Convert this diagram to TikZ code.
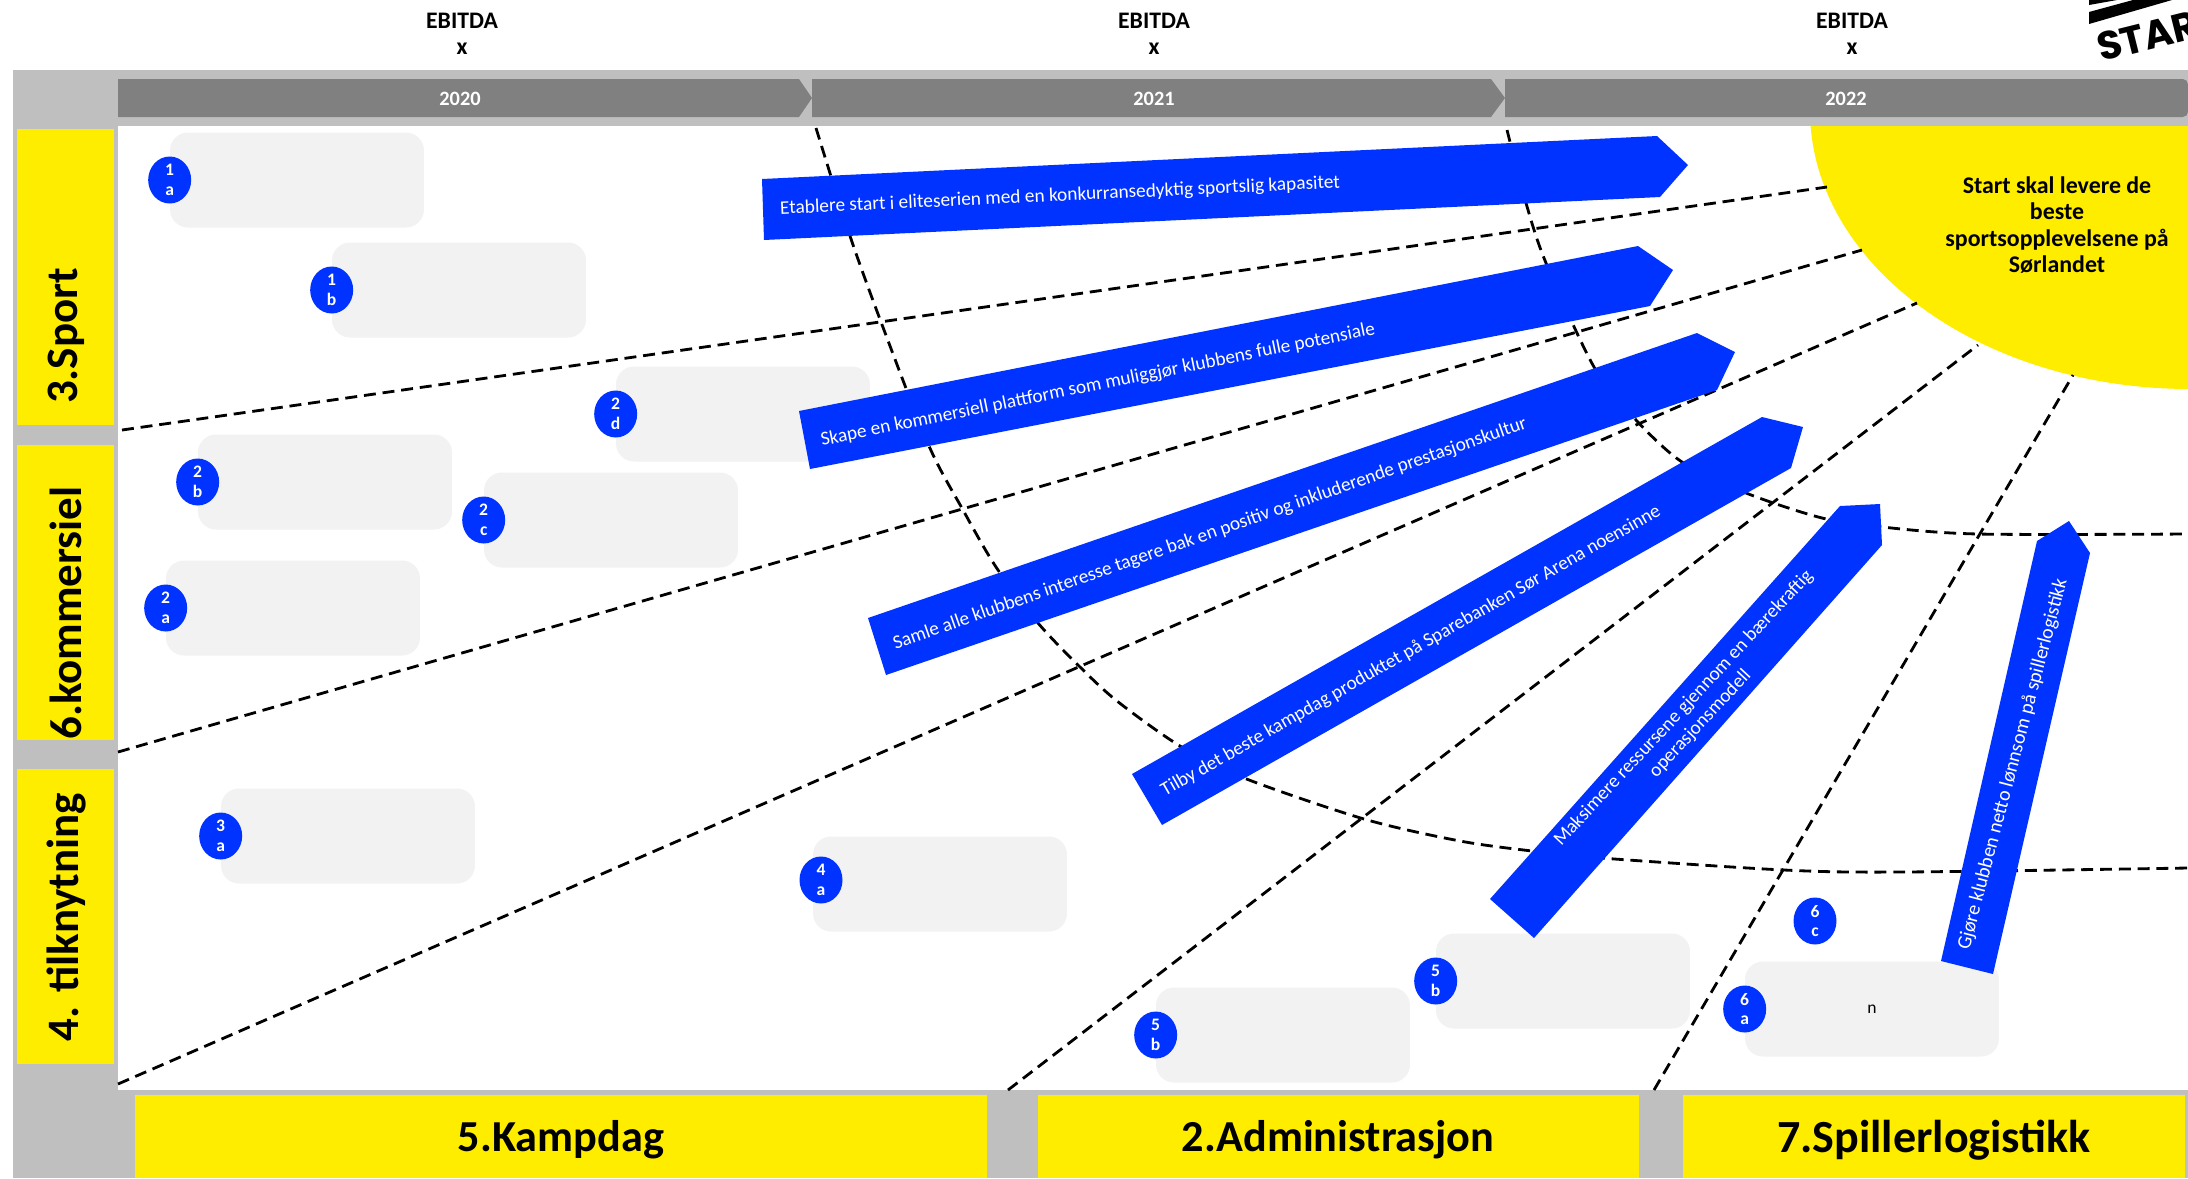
\documentclass[tikz,border=0pt]{standalone}
\usepackage{fontspec}
\setmainfont{Carlito}
\newfontfamily\logofont{Poppins}
\usetikzlibrary{calc}
\usetikzlibrary{positioning}
\usetikzlibrary{shapes.geometric}
\definecolor{startyellow}{HTML}{FFED00}
\definecolor{startblue}{HTML}{0033FF}
\definecolor{bandgrey}{HTML}{BFBFBF}
\definecolor{yeargrey}{HTML}{808080}
\definecolor{boxgrey}{HTML}{F2F2F2}

\begin{document}
\begin{tikzpicture}[x=0.02cm,y=-0.02cm,
  goalbox/.style={rectangle,fill=boxgrey,rounded corners=0.36cm,minimum width=5.08cm,minimum height=1.9cm,inner sep=0pt},
  badge/.style={ellipse,fill=startblue,text=white,minimum width=0.86cm,minimum height=0.94cm,inner sep=0pt,align=center,font=\fontsize{10}{11.2}\selectfont\bfseries},
  sidelabel/.style={rotate=90,font=\fontsize{25.6}{28}\selectfont\bfseries},
  baselabel/.style={font=\fontsize{25.2}{28}\selectfont\bfseries},
  toplabel/.style={align=center,font=\fontsize{13.5}{14.9}\selectfont\bfseries},
  yearlabel/.style={text=white,font=\fontsize{11.6}{13}\selectfont\bfseries},
  goalarrow/.style={fill=startblue},
  goaltext/.style={text=white,align=center,font=\fontsize{11}{13}\selectfont},
  raydash/.style={line width=1.6pt,dash pattern=on 6.8pt off 3.9pt}]

\useasboundingbox (0,0) rectangle (2188,1178);

% frame
\fill[bandgrey] (13,70) rectangle (2188,1178);
\fill[white] (118,126) rectangle (2188,1090);

% sun
\begin{scope}
\clip (118,126) rectangle (2188,1090);
\fill[startyellow] (2190,110) ellipse (380 and 279);
\end{scope}

% logo
\fill (2089,0) -- (2117,0) -- (2089,5) -- cycle;
\fill (2089,12) -- (2133,0) -- (2172,0) -- (2089,24) -- cycle;
\node [rotate=14,anchor=base west,inner sep=0pt,font=\fontsize{22.5}{24}\selectfont\logofont\bfseries] (logo) at (2101,62) {STAR};

% yellow headers
\fill[startyellow] (17,129) rectangle (114,425);
\fill[startyellow] (17,445) rectangle (114,740);
\fill[startyellow] (17,769) rectangle (114,1064);
\fill[startyellow] (135,1095) rectangle (987,1178);
\fill[startyellow] (1038,1095) rectangle (1639,1178);
\fill[startyellow] (1683,1095) rectangle (2185,1178);

% years
\fill[yeargrey] (118,79) -- (799,79) -- (812,98) -- (799,117) -- (118,117) -- cycle;
\fill[yeargrey] (812,79) -- (1491,79) -- (1505,98) -- (1491,117) -- (812,117) -- cycle;
\fill[yeargrey] (1505,79) [rounded corners=3pt] -- (2188,79) -- (2188,117) [sharp corners] -- (1505,117) -- cycle;

% boxes
\node [goalbox] (box1a) at (297,180) {};
\node [goalbox] (box1b) at (459,290) {};
\node [goalbox] (box2d) at (743,414) {};
\node [goalbox] (box2b) at (325,482) {};
\node [goalbox] (box2c) at (611,520) {};
\node [goalbox] (box2a) at (293,608) {};
\node [goalbox] (box3a) at (348,836) {};
\node [goalbox] (box4a) at (940,884) {};
\node [goalbox] (box5b) at (1283,1035) {};
\node [goalbox] (box5c) at (1563,981) {};
\node [goalbox] (box6a) at (1872,1009) {\fontsize{10}{12}\selectfont n};

% rays
\coordinate (ray1a) at (122,430);
\coordinate (ray1b) at (1827,187);
\coordinate (ray2a) at (118,752);
\coordinate (ray2b) at (1862,250);
\coordinate (ray3a) at (118,1084);
\coordinate (ray3b) at (1917,303);
\coordinate (ray4a) at (1008,1090);
\coordinate (ray4b) at (1978,345);
\coordinate (ray5a) at (1654,1090);
\coordinate (ray5b) at (2073,375);
\draw [raydash] (ray1a) -- (ray1b);
\draw [raydash] (ray2a) -- (ray2b);
\draw [raydash] (ray3a) -- (ray3b);
\draw [raydash] (ray4a) -- (ray4b);
\draw [raydash] (ray5a) -- (ray5b);

% arcs
\draw [raydash] plot[smooth] coordinates {(816,128) (850,236) (884,330) (929,446) (963,510) (996,567) (1038,623) (1079,666) (1117,701) (1180,746) (1244,778) (1364,819) (1460,841) (1532,851) (1601,858) (1784,870) (1902,872) (2188,868)};
\draw [raydash] plot[smooth] coordinates {(1507,130) (1526,203) (1546,263) (1594,367) (1636,420) (1682,462) (1746,493) (1822,518) (1882,527) (1978,534) (2188,534)};

% arrows
\fill[goalarrow] (762,179) -- (1657,136) -- (1688,165) -- (1660,197) -- (764,240) -- cycle;
\fill[goalarrow] (799,411) -- (1638,246) -- (1673,270) -- (1650,306) -- (810,469) -- cycle;
\fill[goalarrow] (868,618) -- (1697,333) -- (1735,352) -- (1717,390) -- (886,675) -- cycle;
\fill[goalarrow] (1132,774) -- (1762,417) -- (1803,427) -- (1791,468) -- (1162,825) -- cycle;
\fill[goalarrow] (1490,899) -- (1840,506) -- (1880,504) -- (1882,545) -- (1534,938) -- cycle;
\fill[goalarrow] (1941,961) -- (2037,541) -- (2069,521) -- (2090,553) -- (1993,974) -- cycle;

\node [goaltext,rotate=2.7] (goal1) at (1060,196) {Etablere start i eliteserien med en konkurransedyktig sportslig kapasitet};
\node [goaltext,rotate=11.4] (goal2) at (1098,385) {Skape en kommersiell plattform som muliggjør klubbens fulle potensiale};
\node [goaltext,rotate=19.3] (goal3) at (1210,534) {Samle alle klubbens interesse tagere bak en positiv og inkluderende prestasjonskultur};
\node [goaltext,rotate=29.6] (goal4) at (1411,651) {Tilby det beste kampdag produktet på Sparebanken Sør Arena noensinne};
\node [goaltext,rotate=47] (goal5) at (1692,716) {Maksimere ressursene gjennom en bærekraftig\\operasjonsmodell};
\node [goaltext,rotate=75.2,font=\fontsize{11.4}{13}\selectfont] (goal6) at (2013,764) {Gjøre klubben netto lønnsom på spillerlogistikk};

% badges
\node [badge] (badge1a) at (box1a.west) {1\\a};
\node [badge] (badge1b) at (box1b.west) {1\\b};
\node [badge] (badge2d) at (box2d.west) {2\\d};
\node [badge] (badge2b) at (box2b.west) {2\\b};
\node [badge] (badge2c) at (box2c.west) {2\\c};
\node [badge] (badge2a) at (box2a.west) {2\\a};
\node [badge] (badge3a) at (box3a.west) {3\\a};
\node [badge] (badge4a) at (821,880) {4\\a};
\node [badge] (badge5b) at (box5b.west) {5\\b};
\node [badge] (badge5c) at (box5c.west) {5\\b};
\node [badge] (badge6a) at (box6a.west) {6\\a};
\node [badge] (badge6c) at (1815,921) {6\\c};

% labels
\node [toplabel] (ebitda1) at (462,34) {EBITDA\\x};
\node [toplabel] (ebitda2) at (1154,34) {EBITDA\\x};
\node [toplabel] (ebitda3) at (1852,34) {EBITDA\\x};
\node [yearlabel] (year1) at (460,99) {2020};
\node [yearlabel] (year2) at (1154,99) {2021};
\node [yearlabel] (year3) at (1846,99) {2022};
\node [sidelabel] (side1) at (66,336) {3.Sport};
\node [sidelabel] (side2) at (66,613) {6.kommersiel};
\node [sidelabel] (side3) at (66,917) {4. tilknytning};
\node [baselabel] (base1) at (561,1140) {5.Kampdag};
\node [baselabel] (base2) at (1338,1140) {2.Administrasjon};
\node [baselabel,font=\fontsize{26.2}{28}\selectfont\bfseries] (base3) at (1934,1140) {7.Spillerlogistikk};
\node [align=center,font=\fontsize{13.6}{15}\selectfont\bfseries] (sunlabel) at (2057,225) {Start skal levere de\\beste\\sportsopplevelsene på\\Sørlandet};

\end{tikzpicture}
\end{document}
